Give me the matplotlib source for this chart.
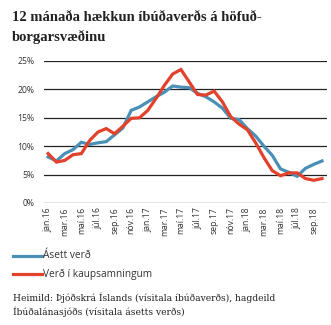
import matplotlib
matplotlib.use("Agg")
import matplotlib.pyplot as plt
from matplotlib.lines import Line2D

# monthly 12-month change, jan.16 - okt.18
months = ["jan.16", "feb.16", "mar.16", "apr.16", "maí.16", "jún.16", "júl.16", "ágú.16",
          "sep.16", "okt.16", "nóv.16", "des.16", "jan.17", "feb.17", "mar.17", "apr.17",
          "maí.17", "jún.17", "júl.17", "ágú.17", "sep.17", "okt.17", "nóv.17", "des.17",
          "jan.18", "feb.18", "mar.18", "apr.18", "maí.18", "jún.18", "júl.18", "ágú.18",
          "sep.18", "okt.18"]
asett = [8.1, 7.4, 8.7, 9.4, 10.7, 10.3, 10.6, 10.8, 12.0, 13.2, 16.3, 16.9,
         17.8, 18.7, 19.5, 20.6, 20.4, 20.3, 19.3, 18.7, 17.8, 16.7, 14.9, 14.7,
         13.1, 11.8, 10.0, 8.4, 6.0, 5.4, 4.7, 6.1, 6.8, 7.4]
kaupsamn = [8.7, 7.2, 7.5, 8.5, 8.7, 11.0, 12.5, 13.1, 12.2, 13.5, 14.9, 15.0,
            16.3, 18.4, 20.7, 22.7, 23.5, 21.3, 19.1, 19.0, 19.7, 17.8, 15.2, 13.9,
            12.9, 10.6, 8.0, 5.7, 4.8, 5.3, 5.3, 4.3, 4.0, 4.3]
yticks = [0, 5, 10, 15, 20, 25]

blue = "#4a90b6"
red = "#e2412b"
W, H = 331, 325

fig = plt.figure(figsize=(W / 100, H / 100), dpi=100)
ax = fig.add_axes([44 / W, 1 - 203 / H, (327 - 44) / W, (203 - 61) / H])

x = list(range(len(months)))
ax.plot(x, asett, color=blue, lw=2.3, solid_joinstyle="miter", zorder=3)
ax.plot(x, kaupsamn, color=red, lw=2.3, solid_joinstyle="miter", zorder=4)

ax.set_xlim(-0.5, 33.6)
ax.set_ylim(0, 25)
for v in yticks:
    ax.axhline(v, color="#222222", lw=0.9, zorder=1)
ax.set_yticks(yticks)
ax.set_yticklabels([f"{v}%" for v in yticks], fontsize=6.2, family="Open Sans", color="#333333")
ax.set_xticks(x[::2])
ax.set_xticklabels(months[::2], rotation=90, fontsize=6.2, family="Open Sans", color="#333333")
ax.tick_params(axis="both", length=0, pad=3)
ax.tick_params(axis="y", pad=7)
for s in ax.spines.values():
    s.set_visible(False)

fig.text(12 / W, 1 - 21 / H, "12 mánaða hækkun íbúðaverðs á höfuð-", fontsize=10.5,
         family="Liberation Serif", weight="bold", color="#222222")
fig.text(12 / W, 1 - 41 / H, "borgarsvæðinu", fontsize=10.5,
         family="Liberation Serif", weight="bold", color="#222222")

# legend drawn by hand
for yy, col, lab in [(256, blue, "Ásett verð"), (274, red, "Verð í kaupsamningum")]:
    fig.add_artist(Line2D([13 / W, 42 / W], [1 - yy / H, 1 - yy / H], color=col, lw=2.3))
    fig.text(43 / W, 1 - yy / H, lab, fontsize=7.3, family="Open Sans",
             color="#333333", va="center")

fig.text(13 / W, 1 - 301 / H, "Heimild: Þjóðskrá Íslands (vísitala íbúðaverðs), hagdeild",
         fontsize=6.6, family="DejaVu Serif", color="#222222")
fig.text(13 / W, 1 - 315 / H, "Íbúðalánasjóðs (vísitala ásetts verðs)",
         fontsize=6.6, family="DejaVu Serif", color="#222222")

fig.savefig("out.png", dpi=100)
